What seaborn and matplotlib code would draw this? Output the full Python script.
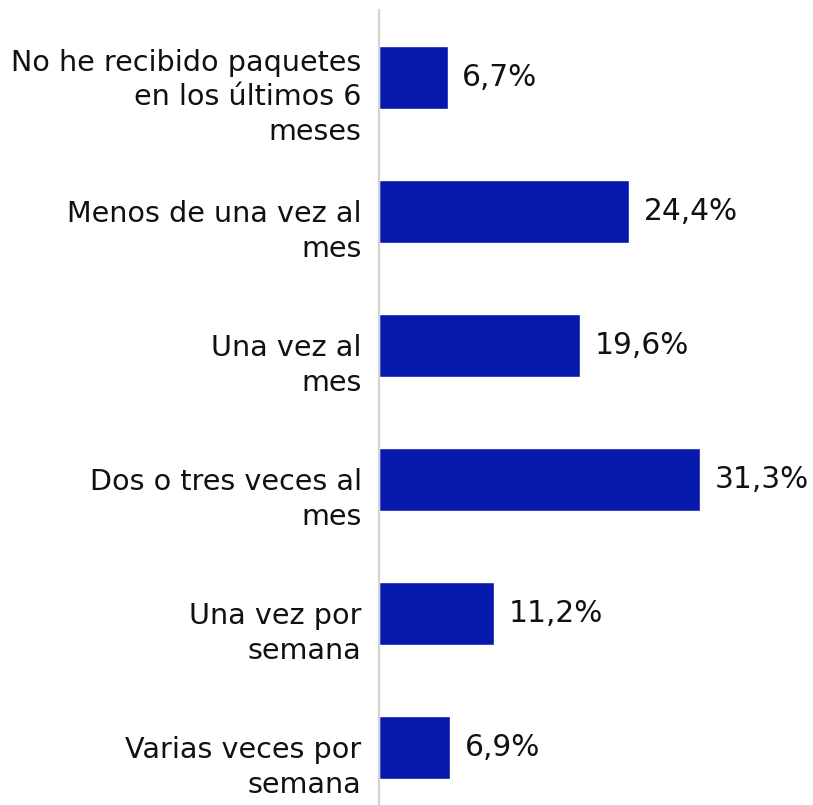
import matplotlib
matplotlib.use("Agg")
import matplotlib.pyplot as plt
import seaborn as sns
import pandas as pd

categories = [
    "No he recibido paquetes\nen los últimos 6\nmeses",
    "Menos de una vez al\nmes",
    "Una vez al\nmes",
    "Dos o tres veces al\nmes",
    "Una vez por\nsemana",
    "Varias veces por\nsemana",
]
values = [6.7, 24.4, 19.6, 31.3, 11.2, 6.9]
value_labels = ["6,7%", "24,4%", "19,6%", "31,3%", "11,2%", "6,9%"]

bar_color = "#0718AD"
text_color = "#111111"

sns.set_theme(style="white")
plt.rcParams["font.family"] = ["DejaVu Sans"]

df = pd.DataFrame({"categoria": categories, "porcentaje": values})

fig = plt.figure(figsize=(8.13, 8.05), dpi=100)
ax = fig.add_axes([379 / 813, 0.0, 1 - 379 / 813, 1 - 10 / 805])

sns.barplot(data=df, x="porcentaje", y="categoria", color=bar_color,
            width=0.47, saturation=1, ax=ax, orient="h")

ax.set_xlim(0, 42.3)
ax.set_ylim(5.43, -0.5)

# value labels to the right of each bar
for patch, lab in zip(ax.patches, value_labels):
    w = patch.get_width()
    yc = patch.get_y() + patch.get_height() / 2
    ax.annotate(lab, xy=(w, yc), xytext=(10.5, 0), textcoords="offset points",
                ha="left", va="center", fontsize=21.3, color=text_color)

# category labels, right-aligned against the axis and set slightly low
ax.set_yticks(range(len(categories)))
ax.set_yticklabels([])
for i, cat in enumerate(categories):
    ax.annotate(cat, xy=(0, i), xycoords=ax.get_yaxis_transform(),
                xytext=(-12.5, -14.5), textcoords="offset points",
                ha="right", va="center", multialignment="right",
                fontsize=20.6, linespacing=1.3, color=text_color,
                annotation_clip=False)

ax.set_xlabel("")
ax.set_ylabel("")
ax.set_xticks([])
ax.tick_params(axis="y", length=0)

for side in ["top", "right", "bottom"]:
    ax.spines[side].set_visible(False)
ax.spines["left"].set_color("#d4d4d4")
ax.spines["left"].set_linewidth(1.6)

fig.savefig("out.png", dpi=100)
